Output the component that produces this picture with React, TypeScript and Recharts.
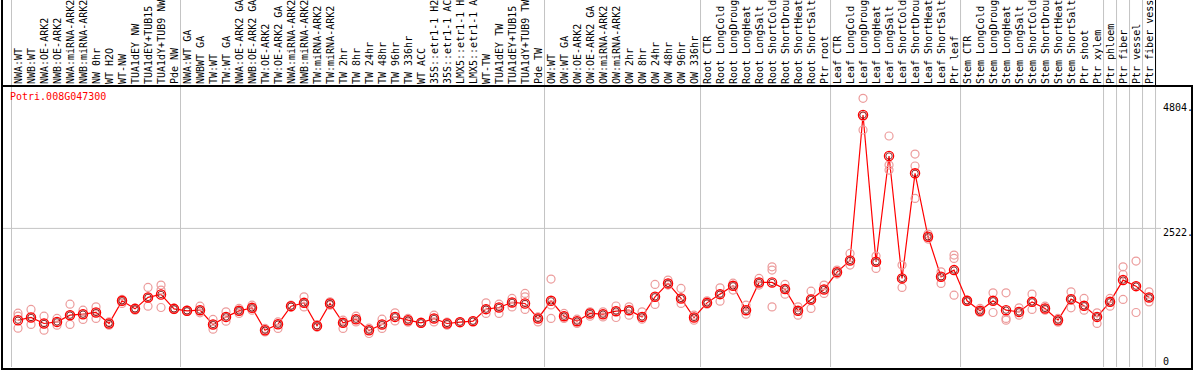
import { ComposedChart, Line, XAxis, YAxis, ReferenceLine } from "recharts";

const TITLE = "Potri.008G047300";

const CATEGORIES = [
  "NWA:WT", "NWB:WT", "NWA:OE-ARK2", "NWB:OE-ARK2", "NWA:miRNA-ARK2", "NWB:miRNA-ARK2",
  "NW 0hr", "WT H2O", "WT-NW", "TUA1dEY NW", "TUA1dEY+TUB15", "TUA1dY+TUB9 NW", "Pde NW",
  "NWA:WT GA", "NWBWT GA", "TW:WT", "TW:WT GA", "NWA:OE-ARK2 GA", "NWB:OE-ARK2 GA",
  "TW:OE-ARK2", "TW:OE-ARK2 GA", "NWA:miRNA-ARK2", "NWB:miRNA-ARK2", "TW:miRNA-ARK2",
  "TW:miRNA-ARK2", "TW 2hr", "TW 8hr", "TW 24hr", "TW 48hr", "TW 96hr", "TW 336hr", "WT ACC",
  "35S::etr1-1 H2", "35S::etr1-1 AC", "LMX5::etr1-1 H", "LMX5::etr1-1 A", "WT-TW",
  "TUA1dEY TW", "TUA1dEY+TUB15", "TUA1dY+TUB9 TW", "Pde TW",
  "OW:WT", "OW:WT GA", "OW:OE-ARK2", "OW:OE-ARK2 GA", "OW:miRNA-ARK2", "OW:miRNA-ARK2",
  "OW 2hr", "OW 8hr", "OW 24hr", "OW 48hr", "OW 96hr", "OW 336hr",
  "Root CTR", "Root LongCold", "Root LongDroug", "Root LongHeat", "Root LongSalt",
  "Root ShortCold", "Root ShortDrou", "Root ShortHeat", "Root ShortSalt", "Ptr root",
  "Leaf CTR", "Leaf LongCold", "Leaf LongDroug", "Leaf LongHeat", "Leaf LongSalt",
  "Leaf ShortCold", "Leaf ShortDrou", "Leaf ShortHeat", "Leaf ShortSalt", "Ptr leaf",
  "Stem CTR", "Stem LongCold", "Stem LongDroug", "Stem LongHeat", "Stem LongSalt",
  "Stem ShortCold", "Stem ShortDrou", "Stem ShortHeat", "Stem ShortSalt", "Ptr shoot",
  "Ptr xylem", "Ptr phloem", "Ptr fiber", "Ptr vessel", "Ptr fiber vess",
];

// index where each group of samples starts (last one closes the final group)
const GROUP_STARTS = [0, 13, 41, 53, 63, 73, 84, 85, 86, 87, 88];

const MEAN = [
  852, 901, 792, 821, 943, 961, 992, 792, 1204, 1058, 1266, 1320, 1058,
  1022, 1034, 774, 912, 1022, 1076, 670, 779, 1107, 1167, 748, 1156, 803, 870, 670, 774,
  912, 852, 803, 883, 792, 816, 834, 1053, 1083, 1175, 1156, 883,
  1204, 925, 834, 974, 961, 1016, 1034, 912, 1277, 1521, 1247, 901,
  1167, 1326, 1477, 1034, 1539, 1539, 1417, 1022, 1229, 1411,
  1726, 1939, 4585, 1914, 3839, 1612, 3524, 2369, 1641, 1763,
  1204, 1022, 1204, 1034, 1003, 1185, 1065, 852, 1235, 1113, 912,
  1185, 1581, 1471, 1266,
];

const REP1 = [
  980, 1047, 925, 883, 1144, 1034, 1094, 821, 1229, 1070, 1448, 1490, 1070,
  1034, 1107, 865, 1003, 1065, 1125, 701, 821, 1125, 1277, 770, 1185, 852, 925, 707, 870,
  985, 883, 810, 943, 816, 822, 840, 1167, 1144, 1247, 1338, 912,
  1599, 974, 870, 1003, 1003, 1110, 1094, 1003, 1502, 1581, 1430, 943,
  1204, 1440, 1526, 1125, 1612, 1823, 1502, 1094, 1380, 1490,
  1763, 2067, 4889, 2018, 4203, 1854, 3875, 2418, 1732, 2036,
  1218, 1065, 1349, 1349, 1076, 1326, 1107, 883, 1368, 1247, 985,
  1247, 1823, 1927, 1368,
];

const REP2 = [
  925, 901, 792, 821, 943, 961, 992, 792, 1204, 1058, 1266, 1399, 1058,
  1022, 1034, 774, 912, 1022, 1076, 670, 779, 1107, 1167, 748, 1156, 803, 870, 670, 774,
  912, 852, 803, 883, 792, 816, 834, 1053, 1083, 1175, 1277, 883,
  1130, 925, 834, 974, 961, 1016, 1034, 912, 1277, 1521, 1247, 901,
  1167, 1326, 1477, 1034, 1539, 1763, 1417, 1022, 1229, 1411,
  1726, 1939, 4560, 1914, 3675, 1612, 3657, 2369, 1641, 1976,
  1204, 1022, 1204, 883, 1003, 1185, 1065, 852, 1235, 1113, 912,
  1185, 1684, 1471, 1266,
];

const REP3 = [
  707, 774, 670, 761, 774, 865, 883, 761, 1156, 1034, 1107, 1083, 1045,
  1010, 985, 688, 834, 974, 1034, 639, 701, 1089, 1094, 725, 1125, 701, 821, 610, 701,
  839, 816, 796, 821, 761, 810, 828, 974, 974, 1094, 1047, 821,
  883, 883, 792, 925, 912, 901, 943, 870, 1138, 1490, 1156, 852,
  1144, 1198, 1399, 961, 1490, 1094, 1326, 943, 1065, 1338,
  1690, 1854, 4312, 1794, 3584, 1448, 3068, 2327, 1521, 1307,
  1190, 992, 992, 852, 943, 1047, 1034, 816, 1076, 1034, 792,
  1107, 1229, 992, 1185,
];

const Y_TICKS = [0, 2522, 4804];

const data = CATEGORIES.map((name, i) => ({
  idx: i,
  name,
  mean: MEAN[i],
  rep1: REP1[i],
  rep2: REP2[i],
  rep3: REP3[i],
}));

const boundaries = GROUP_STARTS.map((k) => k - 0.5);
const xTicks = [...data.map((d) => d.idx), ...boundaries];

const FONT = "'DejaVu Sans Mono', monospace";
const GRID = "#c4c4c4";
const REP_COLOR = "#ec9c9c";

function LabelTick(props: any) {
  const { x, y, payload } = props;
  const v = payload.value;
  if (!Number.isInteger(v)) {
    const last = v === boundaries[boundaries.length - 1];
    return <line x1={x} x2={x} y1={0} y2={y + 2} stroke={last ? "#000" : GRID} strokeWidth={1} />;
  }
  return (
    <text
      x={x + 3.5}
      y={y}
      transform={`rotate(-90 ${x + 3.5} ${y})`}
      textAnchor="start"
      fontFamily={FONT}
      fontSize={10}
      fill="#000"
    >
      {CATEGORIES[v]}
    </text>
  );
}

function ValueTick(props: any) {
  const { x, y, payload } = props;
  const v = payload.value;
  return (
    <text x={x} y={y} dy={v === 0 ? -1.7 : 7.6} textAnchor="start" fontFamily={FONT} fontSize={10} fill="#000">
      {v === 0 ? "0" : `${v}.`}
    </text>
  );
}

function RepDot(props: any) {
  const { cx, cy } = props;
  if (cx == null || cy == null) return null;
  return <circle cx={cx} cy={cy} r={4} fill="none" stroke={REP_COLOR} strokeWidth={1.2} />;
}

function MeanDot(props: any) {
  const { cx, cy } = props;
  if (cx == null || cy == null) return null;
  return (
    <g>
      <circle cx={cx} cy={cy} r={4.6} fill="none" stroke="#ff0000" strokeWidth={1.3} />
      <circle cx={cx} cy={cy} r={3.2} fill="none" stroke="#700000" strokeWidth={0.8} />
    </g>
  );
}

export default function App() {
  return (
    <div style={{ position: "absolute", left: 0, top: 0, width: 1194, height: 370, background: "#fff" }}>
      <ComposedChart width={1194} height={370} data={data} margin={{ top: 0, right: 0, bottom: 3, left: 1.5 }}>
        <XAxis
          dataKey="idx"
          type="number"
          orientation="top"
          height={86}
          domain={[-1.27, 87.92]}
          ticks={xTicks}
          interval={0}
          tick={<LabelTick />}
          tickSize={0}
          tickMargin={2}
          axisLine={false}
          tickLine={false}
          allowDataOverflow
        />
        <YAxis
          orientation="right"
          width={33}
          domain={[0, 5113]}
          ticks={Y_TICKS}
          interval={0}
          tick={<ValueTick />}
          tickSize={0}
          tickMargin={2}
          axisLine={false}
          tickLine={false}
          allowDataOverflow
        />
        <ReferenceLine y={2522} stroke={GRID} strokeWidth={1} />
        {boundaries.map((b) => (
          <ReferenceLine key={b} x={b} stroke={GRID} strokeWidth={1} />
        ))}
        {["rep1", "rep2", "rep3"].map((k) => (
          <Line
            key={k}
            dataKey={k}
            stroke="none"
            dot={<RepDot />}
            activeDot={false}
            isAnimationActive={false}
          />
        ))}
        <Line
          dataKey="mean"
          type="linear"
          stroke="#ff0000"
          strokeWidth={1.2}
          dot={<MeanDot />}
          activeDot={false}
          isAnimationActive={false}
        />
      </ComposedChart>
      <div
        style={{
          position: "absolute",
          left: 10,
          top: 92,
          fontFamily: FONT,
          fontSize: 10,
          lineHeight: "10px",
          color: "#ff0000",
          whiteSpace: "nowrap",
        }}
      >
        {TITLE}
      </div>
      <div style={{ position: "absolute", left: 1, top: 0, width: 2, height: 86, background: "#000" }} />
      <div
        style={{
          position: "absolute",
          left: 1,
          top: 85,
          width: 1192,
          height: 285,
          border: "2px solid #000",
          boxSizing: "border-box",
          pointerEvents: "none",
        }}
      />
    </div>
  );
}
